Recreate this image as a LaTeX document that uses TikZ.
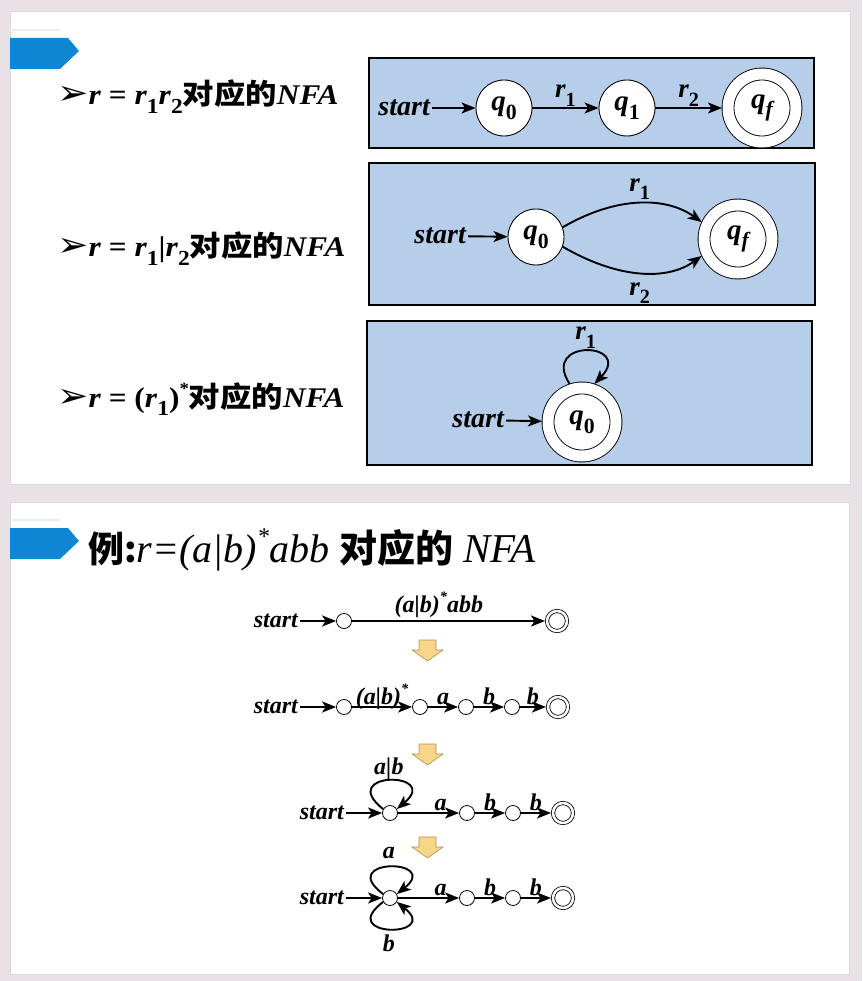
\documentclass[tikz,border=0pt]{standalone}
\usepackage{fontspec}
\usepackage{graphicx}
\setmainfont{Liberation Serif}
\newfontfamily\cjk{Noto Sans CJK SC}
\newfontfamily\sym{DejaVu Sans}
\usepackage{tikz}
\usetikzlibrary{arrows.meta}

\definecolor{pagebg}{HTML}{EAE1E6}
\definecolor{boxblue}{HTML}{B7CEEA}
\definecolor{tabblue}{HTML}{0E86D4}
\definecolor{tabline}{HTML}{E2EEF8}
\definecolor{blockfill}{HTML}{F7D68A}
\definecolor{blockedge}{HTML}{B0914E}

\newcommand{\fs}[1]{\fontsize{#1}{#1}\selectfont}
\newcommand{\sbx}[1]{\raisebox{-.3em}{\scalebox{.75}{\upshape #1}}}
\newcommand{\spx}[1]{\raisebox{.45em}{\scalebox{.6}{#1}}}
\newcommand{\wide}[1]{\scalebox{1.1}[1]{#1}}

\tikzset{
	slide/.style={fill=white, draw=black!15, line width=1pt},
	nfabox/.style={fill=boxblue, draw=black, line width=1.2pt},
	stnode/.style={circle, draw, fill=white, line width=.9pt, minimum size=56pt, inner sep=0pt, font=\fs{29}\bfseries\itshape},
	fin/.style={stnode, double, double distance=11pt, minimum size=68pt, outer sep=6pt},
	sdot/.style={circle, draw, fill=white, line width=.8pt, minimum size=15pt, inner sep=0pt},
	sdotf/.style={sdot, double, double distance=2.5pt, minimum size=20pt, outer sep=2pt},
	stx/.style={font=\fs{28}\bfseries\itshape, inner sep=2pt},
	stxs/.style={font=\fs{24}\bfseries\itshape, inner sep=2pt},
	rlab/.style={font=\fs{27}\bfseries\itshape, inner sep=1pt},
	elab/.style={anchor=base, inner sep=0pt, yshift=3pt, font=\fs{24}\bfseries\itshape},
	trans/.style={->, line width=1.9pt},
	bullet/.style={anchor=base west, inner sep=0pt, font=\fs{28.5}\bfseries}
}

\begin{document}
\begin{tikzpicture}[x=1pt, y=-1pt, >={Stealth[length=14pt,width=11pt,inset=3.5pt]}]
	\useasboundingbox (0,0) rectangle (862,981);
	\fill[pagebg] (0,0) rectangle (862,981);
	% slides
	\draw[slide] (10,12) rectangle (850,484);
	\draw[slide] (10,502) rectangle (849,974);
	\foreach \t in {38, 528} {
		\draw[tabline, line width=1.5pt] (10,\t-8) -- (60,\t-8);
		\fill[tabblue] (10,\t) -- (68,\t) -- (79,\t+13) -- (60,\t+31) -- (10,\t+31) -- cycle;
	}
	% left column
	\node[bullet] (b1) at (57,105) {\wide{{\sym\fs{34}➢}\textit{r} = \textit{r}\sbx{1}\textit{r}\sbx{2}{\cjk 对应的}\textit{NFA}}};
	\node[bullet] (b2) at (57,257) {\wide{{\sym\fs{34}➢}\textit{r} = \textit{r}\sbx{1}|\textit{r}\sbx{2}{\cjk 对应的}\textit{NFA}}};
	\node[bullet] (b3) at (57,407) {\wide{{\sym\fs{34}➢}\textit{r} = (\textit{r}\sbx{1})\spx{*}{\cjk 对应的}\textit{NFA}}};

	% r1 r2
	\draw[nfabox] (369,58) rectangle (814,148);
	\node[stx, anchor=east] (s1) at (432,108) {start};
	\node[stnode] (a0) at (504,108) {q\sbx{0}};
	\node[stnode] (a1) at (627,108) {q\sbx{1}};
	\node[fin] (af) at (762,108) {q\sbx{\itshape f}};
	\draw[trans] (s1) -- (a0);
	\draw[trans] (a0) -- node[rlab, above] (ar1) {r\sbx{1}} (a1);
	\draw[trans] (a1) -- node[rlab, above] (ar2) {r\sbx{2}} (af);

	% r1|r2
	\draw[nfabox] (369,163) rectangle (815,305);
	\node[stx, anchor=east] (s2) at (468,236) {start};
	\node[stnode] (c0) at (536,237) {q\sbx{0}};
	\node[fin] (cf) at (738,239) {q\sbx{\itshape f}};
	\draw[trans] (s2) -- (c0);
	\draw[trans] (c0.20) .. controls +(55,-32) and +(-35,-25) .. node[rlab, above=2pt] (cr1) {r\sbx{1}} (cf.155);
	\draw[trans] (c0.-20) .. controls +(55,32) and +(-35,25) .. node[rlab, below=8pt] (cr2) {r\sbx{2}} (cf.-155);

	% (r1)*
	\draw[nfabox] (367,321) rectangle (812,465);
	\node[stx, anchor=east] (s3) at (506,420) {start};
	\node[fin] (d0) at (582,422) {q\sbx{0}};
	\draw[trans] (s3) -- (d0);
	\draw[trans] (d0.108) .. controls +(-30,-46) and +(40,-42) .. node[rlab, above=1pt] (dr1) {r\sbx{1}} (d0.72);

	% example
	\node[anchor=base west, inner sep=0pt] (ttl) at (88,562) {{\cjk\bfseries\fs{36}例:}{\fs{40}\itshape r=(a|b)\spx{*}abb\hspace{10pt}}{\cjk\bfseries\fs{38}对应的}\hspace{10pt}{\fs{41}\itshape NFA}};

	% step 1
	\node[stxs, anchor=east] (u0) at (300,621) {start};
	\node[sdot] (u1) at (344,621) {};
	\node[sdotf] (u2) at (557,621) {};
	\draw[trans] (u0) -- (u1);
	\draw[trans] (u1) -- node[elab, pos=.45, yshift=6pt] (ul) {(a|b)\spx{*}abb} (u2);

	% step 2
	\node[stxs, anchor=east] (v0) at (300,707) {start};
	\foreach \n/\x in {1/344, 2/420, 3/466, 4/512}
		\node[sdot] (v\n) at (\x,707) {};
	\node[sdotf] (v5) at (558,707) {};
	\draw[trans] (v0) -- (v1);
	\foreach \a/\b/\l in {1/2/{(a|b)\spx{*}}, 2/3/a, 3/4/b, 4/5/b}
		\draw[trans] (v\a) -- node[elab] (vl\a) {\l} (v\b);

	% step 3
	\node[stxs, anchor=east] (w0) at (346,813) {start};
	\foreach \n/\x in {1/390, 2/467, 3/513}
		\node[sdot] (w\n) at (\x,813) {};
	\node[sdotf] (w4) at (563,813) {};
	\draw[trans] (w0) -- (w1);
	\draw[trans] (w1) -- node[elab, pos=.7] (wl1) {a} (w2);
	\draw[trans] (w2) -- node[elab] (wl2) {b} (w3);
	\draw[trans] (w3) -- node[elab] (wl3) {b} (w4);
	\draw[trans] (w1.150) .. controls +(-48,-38) and +(45,-38) .. node[elab, pos=.5, yshift=3pt] (wll) {a|b} (w1.30);

	% step 4
	\node[stxs, anchor=east] (z0) at (346,898) {start};
	\foreach \n/\x in {1/390, 2/467, 3/513}
		\node[sdot] (z\n) at (\x,898) {};
	\node[sdotf] (z4) at (563,898) {};
	\draw[trans] (z0) -- (z1);
	\draw[trans] (z1) -- node[elab, pos=.7] (zl1) {a} (z2);
	\draw[trans] (z2) -- node[elab] (zl2) {b} (z3);
	\draw[trans] (z3) -- node[elab] (zl3) {b} (z4);
	\draw[trans] (z1.150) .. controls +(-48,-36) and +(45,-36) .. node[elab, pos=.5, yshift=6pt] (zla) {a} (z1.30);
	\draw[trans] (z1.-150) .. controls +(-48,36) and +(45,36) .. node[elab, pos=.5, anchor=north, yshift=-8pt] (zlb) {b} (z1.-30);

	% block arrows
	\foreach \t in {640, 744, 837}
		\filldraw[fill=blockfill, draw=blockedge, line width=.6pt] (419,\t) -- (436,\t) -- (436,\t+10) -- (443,\t+10) -- (427.5,\t+21) -- (412,\t+10) -- (419,\t+10) -- cycle;
\end{tikzpicture}
\end{document}
